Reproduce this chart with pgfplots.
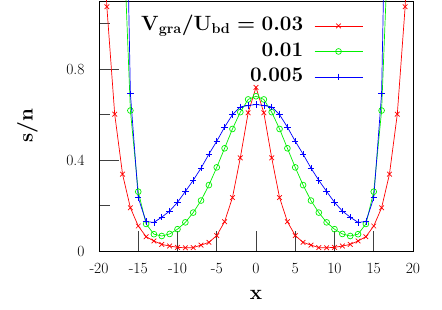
\documentclass[border=0pt]{standalone}
\usepackage{pgfplots}
\pgfplotsset{compat=1.18}
\definecolor{cred}{RGB}{255,0,0}
\definecolor{cgreen}{RGB}{0,240,0}
\definecolor{cblue}{RGB}{0,0,255}
\pgfplotstableread{
x y
-20 1.80
-19 1.075
-18 0.602
-17 0.338
-16 0.190
-15 0.110
-14 0.063
-13 0.044
-12 0.029
-11 0.022
-10 0.016
-9 0.014
-8 0.015
-7 0.026
-6 0.038
-5 0.068
-4 0.129
-3 0.235
-2 0.410
-1 0.608
0 0.720
1 0.608
2 0.410
3 0.235
4 0.129
5 0.068
6 0.038
7 0.026
8 0.015
9 0.014
10 0.016
11 0.022
12 0.029
13 0.044
14 0.063
15 0.110
16 0.190
17 0.338
18 0.602
19 1.075
20 1.80
}\redtab
\pgfplotstableread{
x y
-17 1.50
-16 0.618
-15 0.261
-14 0.119
-13 0.074
-12 0.066
-11 0.075
-10 0.096
-9 0.126
-8 0.169
-7 0.222
-6 0.290
-5 0.368
-4 0.452
-3 0.537
-2 0.611
-1 0.667
0 0.681
1 0.667
2 0.611
3 0.537
4 0.452
5 0.368
6 0.290
7 0.222
8 0.169
9 0.126
10 0.096
11 0.075
12 0.066
13 0.074
14 0.119
15 0.261
16 0.618
17 1.50
}\greentab
\pgfplotstableread{
x y
-17 2.50
-16 0.692
-15 0.234
-14 0.129
-13 0.126
-12 0.149
-11 0.176
-10 0.214
-9 0.262
-8 0.311
-7 0.365
-6 0.426
-5 0.483
-4 0.545
-3 0.600
-2 0.634
-1 0.640
0 0.645
1 0.640
2 0.634
3 0.600
4 0.545
5 0.483
6 0.426
7 0.365
8 0.311
9 0.262
10 0.214
11 0.176
12 0.149
13 0.126
14 0.129
15 0.234
16 0.692
17 2.50
}\bluetab
\begin{document}
\begin{tikzpicture}
\begin{axis}[
  scale only axis, width=314bp, height=250bp,
  xmin=-20, xmax=20, ymin=0, ymax=1.1,
  xtick={-20,-15,-10,-5,0,5,10,15,20},
  xticklabels={-20,-15,-10,-5,0,5,10,15,20},
  ytick={0,0.4,0.8}, yticklabels={0,0.4,0.8},
  minor ytick={0.2,0.6,1.0},
  tick pos=left, tick align=inside,
  major tick length=20bp, minor tick length=11bp,
  every tick/.style={black!75, line width=0.6pt},
  axis line style={line width=0.8pt},
  ticklabel style={font=\fontsize{15.6}{18}\selectfont},
  xticklabel style={anchor=center, yshift=-17bp},
  yticklabel style={anchor=east, xshift=-11bp},
  xlabel={$\mathbf{x}$}, ylabel={$\mathbf{s}/\mathbf{n}$},
  xlabel style={font=\fontsize{20}{24}\selectfont\boldmath, at={(axis description cs:0.5,-0.176)}, anchor=center},
  ylabel style={font=\fontsize{22.5}{26}\selectfont\boldmath, at={(axis description cs:-0.228,0.5)}, anchor=center},
  legend plot pos=right, legend cell align=right,
  legend image code/.code={\draw[mark repeat=2,mark phase=2,#1] plot coordinates {(0bp,0bp) (24bp,0bp) (48bp,0bp)};},
  legend style={draw=none, fill=none, inner sep=0pt,
    at={(rel axis cs:0.841,0.936)}, anchor=north east,
    font=\fontsize{19.3}{22}\selectfont\boldmath,
    row sep=8bp,
    nodes={inner sep=0pt, text height=13.5bp, text depth=4bp},
    /tikz/every odd column/.append style={column sep=11bp}},
  every axis plot/.append style={line width=0.7pt},
]
\addplot[cred, mark=x, mark size=3.3bp, mark options={solid}] table {\redtab};
\addlegendentry{$\mathbf{V}_{\mathbf{gra}}/\mathbf{U}_{\mathbf{bd}}=\mathbf{0.03}$}
\addplot[cgreen, mark=o, mark size=2.9bp, mark options={solid}] table {\greentab};
\addlegendentry{$\mathbf{0.01}$}
\addplot[cblue, mark=+, mark size=3.2bp, mark options={solid}] table {\bluetab};
\addlegendentry{$\mathbf{0.005}$}
\end{axis}
\path (current axis.south west) ++(-99bp,-59bp) rectangle ++(442bp,310bp);
\end{tikzpicture}
\end{document}
